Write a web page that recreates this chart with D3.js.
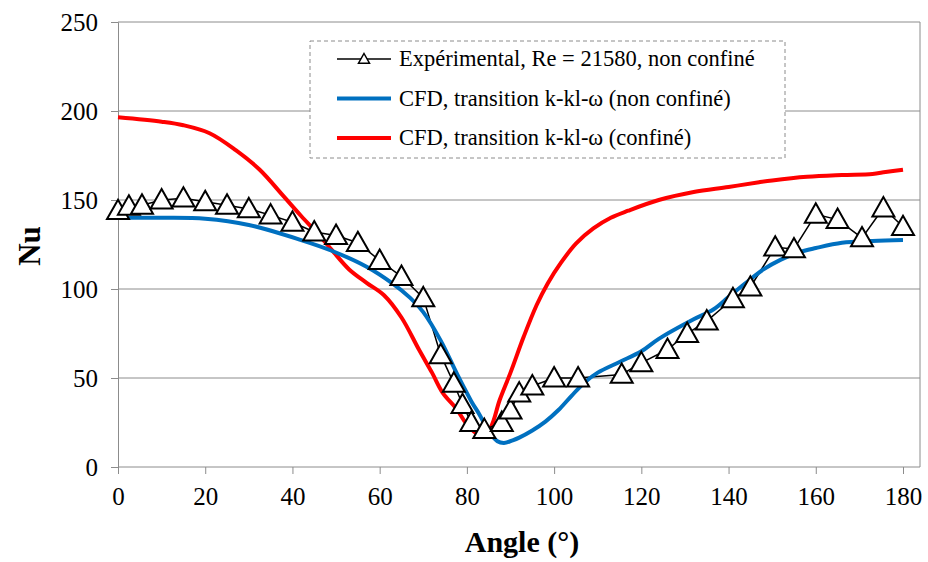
<!DOCTYPE html>
<html>
<head>
<meta charset="utf-8">
<script src="https://cdn.jsdelivr.net/npm/d3@7"></script>
<style>
  body { margin: 0; background: #fff; }
  text { font-family: "Liberation Serif", "Times New Roman", serif; }
</style>
</head>
<body>
<div id="container"></div>
<script>
let w = 928;
let h = 562;

// experimental data (angle, Nu)
let expAngle = [0, 2.5, 5.5, 10, 15, 20, 25, 30, 35, 40, 45, 50, 55, 60, 65, 70, 74, 77, 79, 81, 84, 88, 90, 92, 95, 100, 105.5, 115.5, 120, 126, 130.5, 135, 141, 145, 150.7, 155, 160, 165, 170.6, 175.5, 180];
let expNu = [144, 146.5, 147, 150, 151, 149, 147, 145, 141.5, 137.5, 132, 130, 126, 116, 107, 95, 63, 47, 35, 25, 21, 25, 32, 41.5, 45.5, 50, 50, 52, 58.5, 66, 75, 82, 94.5, 101, 123.5, 122.5, 142, 139, 128.7, 145.5, 135];

// CFD non confiné
let blueAngle = [0, 10, 20, 30, 42, 49, 57, 63, 67, 70, 74, 78, 81, 83, 85, 87, 88.5, 90.5, 92, 95, 98, 101, 104, 107, 110, 115, 120, 124, 132, 136.5, 140, 144, 148, 152, 156, 160, 166, 173, 180];
let blueNu = [140, 140, 139.5, 136, 127.5, 121.5, 112.5, 103, 95, 87, 71, 51, 37, 29, 20, 14.5, 13.5, 15, 16.5, 20.5, 25.5, 32, 40, 47.5, 53, 59, 65, 72, 83, 88.5, 95.5, 103.5, 111, 116.5, 120.5, 123, 126, 127, 127.5];

// CFD confiné
let redAngle = [0, 10, 15, 21, 27, 32.5, 38, 42, 46, 49, 53, 57, 61, 65, 69, 72, 74.5, 77.5, 80.5, 83.5, 85.5, 87.5, 90, 93, 96, 98.5, 101.5, 105, 109, 113, 117, 124, 132, 140, 147, 150, 158, 166, 173, 176, 180];
let redNu = [196.5, 194, 192, 187.5, 178, 167, 152, 141, 130.5, 122, 111, 103.5, 96.5, 84, 66, 53, 41.5, 33, 22.5, 17.5, 22.5, 37.5, 53, 73, 91, 103, 114.5, 125.5, 134, 140, 144, 150, 154.5, 157.3, 160, 161, 163, 164, 164.6, 165.7, 167];

let xTicks = [0, 20, 40, 60, 80, 100, 120, 140, 160, 180];
let yTicks = [0, 50, 100, 150, 200, 250];

let legendLabels = [
  "Expérimental, Re = 21580, non confiné",
  "CFD, transition k-kl-ω (non confiné)",
  "CFD, transition k-kl-ω (confiné)"
];

let plotLeft = 118, plotRight = 920, plotTop = 22, plotBottom = 467;

let svg = d3.select("#container").append("svg")
    .attr("width", w)
    .attr("height", h)
    .style("background-color", "white");

let x = d3.scaleLinear().domain([0, 180]).range([plotLeft, 903]);
let y = d3.scaleLinear().domain([0, 250]).range([plotBottom, plotTop]);

// gridlines
svg.append("g").selectAll("line").data(yTicks.filter(d => d > 0)).enter()
  .append("line")
  .attr("x1", plotLeft).attr("x2", plotRight)
  .attr("y1", d => y(d)).attr("y2", d => y(d))
  .attr("stroke", "#8c8c8c").attr("stroke-width", 1);

// right border
svg.append("line")
  .attr("x1", plotRight).attr("x2", plotRight)
  .attr("y1", plotTop).attr("y2", plotBottom)
  .attr("stroke", "#8c8c8c");

// axes
let xAxis = d3.axisBottom(x).tickValues(xTicks).tickSize(7).tickPadding(13);
let yAxis = d3.axisLeft(y).tickValues(yTicks).tickSize(7).tickPadding(13);

let gx = svg.append("g").attr("transform", "translate(0," + plotBottom + ")").call(xAxis);
gx.select(".domain").attr("d", "M" + plotLeft + ",0H" + plotRight);
let gy = svg.append("g").attr("transform", "translate(" + plotLeft + ",0)").call(yAxis);

[gx, gy].forEach(function(g){
  g.attr("font-family", "Liberation Serif").attr("font-size", 25);
  g.selectAll(".domain").attr("stroke", "#8c8c8c");
  g.selectAll(".tick line").attr("stroke", "#8c8c8c");
  g.selectAll(".tick text").attr("fill", "#000");
});

// axis titles
svg.append("text")
  .attr("x", 522).attr("y", 552)
  .attr("text-anchor", "middle")
  .style("font-weight", "bold").style("font-size", "30px")
  .text("Angle (°)");

svg.append("text")
  .attr("transform", "translate(40,246) rotate(-90)")
  .attr("text-anchor", "middle")
  .style("font-weight", "bold").style("font-size", "31px")
  .text("Nu");

let line = d3.line().x(d => x(d[0])).y(d => y(d[1]));
let smooth = d3.line().x(d => x(d[0])).y(d => y(d[1])).curve(d3.curveCatmullRom);

// red
svg.append("path")
  .datum(d3.zip(redAngle, redNu))
  .attr("d", smooth)
  .attr("fill", "none").attr("stroke", "#ff0000").attr("stroke-width", 4);

// experimental line
svg.append("path")
  .datum(d3.zip(expAngle, expNu))
  .attr("d", line)
  .attr("fill", "none").attr("stroke", "#000").attr("stroke-width", 1.5);

// blue
svg.append("path")
  .datum(d3.zip(blueAngle, blueNu))
  .attr("d", smooth)
  .attr("fill", "none").attr("stroke", "#0070c0").attr("stroke-width", 4);

function tri(s){
  return "M0," + (-s * 0.55) + "L" + (s * 0.55) + "," + (s * 0.42) + "L" + (-s * 0.55) + "," + (s * 0.42) + "Z";
}

svg.append("g").selectAll("path").data(d3.zip(expAngle, expNu)).enter()
  .append("path")
  .attr("transform", d => "translate(" + x(d[0]) + "," + y(d[1]) + ")")
  .attr("d", tri(20))
  .attr("fill", "white").attr("stroke", "#000").attr("stroke-width", 2);

// legend
let lg = svg.append("g").attr("transform", "translate(310,41)");
lg.append("rect")
  .attr("width", 475).attr("height", 117)
  .attr("fill", "white").attr("stroke", "#8c8c8c")
  .attr("stroke-dasharray", "4,3");

let legendColors = ["#000", "#0070c0", "#ff0000"];
let legendWidths = [1.5, 4, 4];
let rows = lg.selectAll(".row").data(legendLabels).enter()
  .append("g")
  .attr("transform", (d, i) => "translate(0," + (18 + i * 39.5) + ")");

rows.append("line")
  .attr("x1", 27).attr("x2", 81)
  .attr("stroke", (d, i) => legendColors[i])
  .attr("stroke-width", (d, i) => legendWidths[i]);

rows.filter((d, i) => i == 0).append("path")
  .attr("d", tri(10))
  .attr("transform", "translate(54,0)")
  .attr("fill", "white").attr("stroke", "#000").attr("stroke-width", 1.5);

rows.append("text")
  .attr("x", 89).attr("y", 7)
  .style("font-size", "22.5px")
  .text(d => d);
</script>
</body>
</html>
